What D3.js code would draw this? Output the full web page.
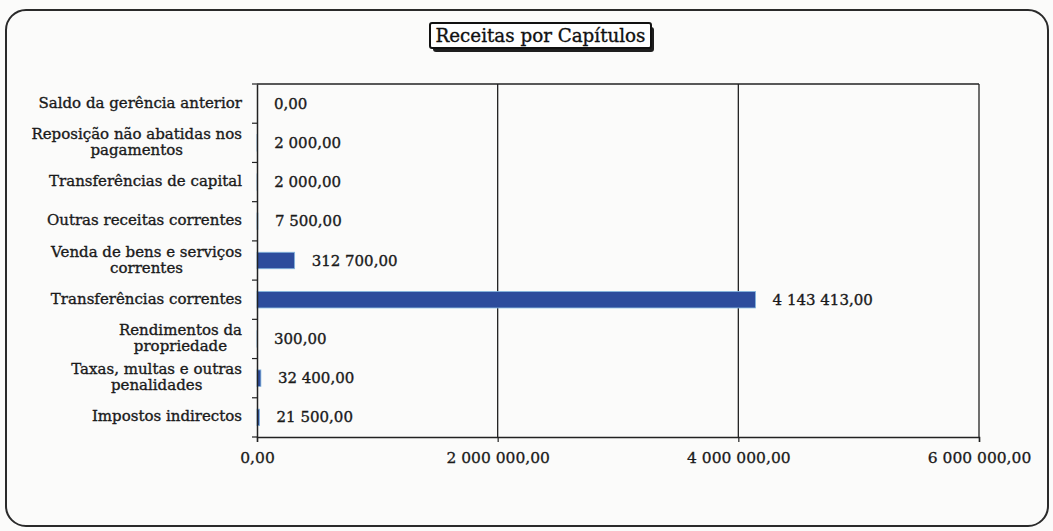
<!DOCTYPE html>
<html>
<head>
<meta charset="utf-8">
<script src="https://cdn.jsdelivr.net/npm/d3@7"></script>
<style>
  body { margin: 0; background: #fbfbfa; }
  svg { display: block; }
</style>
</head>
<body>
<div id="chart"></div>
<script>
// categories listed top to bottom as they appear in the chart
var categories = [
  ['Saldo da gerência anterior'],
  ['Reposição não abatidas nos', 'pagamentos'],
  ['Transferências de capital'],
  ['Outras receitas correntes'],
  ['Venda de bens e serviços', 'correntes'],
  ['Transferências correntes'],
  ['Rendimentos da', 'propriedade'],
  ['Taxas, multas e outras', 'penalidades'],
  ['Impostos indirectos']
];
var values = [0, 2000, 2000, 7500, 312700, 4143413, 300, 32400, 21500];
var xTicks = [0, 2000000, 4000000, 6000000];
var title = 'Receitas por Capítulos';

var W = 1053, H = 531;
var plot = { left: 257, right: 979, top: 84, bottom: 437 };
var serif = "'DejaVu Serif', serif";

var pt = d3.formatLocale({ decimal: ',', thousands: '\u00a0', grouping: [3] });
var fmt = pt.format(',.2f');

var svg = d3.select('#chart').append('svg').attr('width', W).attr('height', H);

// outer frame
svg.append('rect')
  .attr('x', 6).attr('y', 10).attr('width', 1042).attr('height', 516)
  .attr('rx', 20).attr('ry', 20)
  .attr('fill', '#fbfbfa').attr('stroke', '#2a2a2a').attr('stroke-width', 2);

// title box with heavy shadow
var tb = { x: 430, y: 23, w: 221, h: 25 };
svg.append('rect')
  .attr('x', tb.x + 3).attr('y', tb.y + 4).attr('width', tb.w).attr('height', tb.h)
  .attr('rx', 3).attr('fill', '#1e1e1e');
svg.append('rect')
  .attr('x', tb.x).attr('y', tb.y).attr('width', tb.w).attr('height', tb.h)
  .attr('rx', 2)
  .attr('fill', '#fff').attr('stroke', '#111').attr('stroke-width', 2);
svg.append('text')
  .attr('x', tb.x + tb.w / 2).attr('y', tb.y + 19)
  .attr('text-anchor', 'middle')
  .attr('font-family', serif).attr('font-size', 18)
  .attr('textLength', 210).attr('lengthAdjust', 'spacingAndGlyphs')
  .attr('fill', '#111').attr('stroke', '#111').attr('stroke-width', 0.35)
  .text(title);

var x = d3.scaleLinear().domain([0, 6000000]).range([plot.left, plot.right]);
var y = d3.scaleBand().domain(d3.range(categories.length))
  .range([plot.top, plot.bottom]).paddingInner(0.58).paddingOuter(0.29);
var yb = d3.scaleBand().domain(d3.range(categories.length))
  .range([plot.top, plot.bottom]);

// gridlines
svg.append('g').selectAll('line').data(xTicks.slice(1))
  .join('line')
  .attr('x1', function(d) { return x(d); }).attr('x2', function(d) { return x(d); })
  .attr('y1', plot.top).attr('y2', plot.bottom)
  .attr('stroke', '#222').attr('stroke-width', 1.3);

// plot frame top
svg.append('line')
  .attr('x1', plot.left).attr('x2', plot.right)
  .attr('y1', plot.top).attr('y2', plot.top)
  .attr('stroke', '#222').attr('stroke-width', 1.3);

// bars
svg.append('g').selectAll('rect').data(values)
  .join('rect')
  .attr('x', plot.left)
  .attr('y', function(d, i) { return y(i); })
  .attr('width', function(d) { return x(d) - plot.left; })
  .attr('height', y.bandwidth())
  .attr('fill', '#2d4c9c')
  .attr('stroke', '#86b8e0').attr('stroke-width', 0.8);

// value labels
svg.append('g').selectAll('text').data(values)
  .join('text')
  .attr('x', function(d) { return x(d) + 17; })
  .attr('y', function(d, i) { return yb(i) + yb.bandwidth() / 2 + 5; })
  .attr('font-family', serif).attr('font-size', 15)
  .attr('fill', '#1a1a1a').attr('stroke', '#1a1a1a').attr('stroke-width', 0.35)
  .text(function(d) { return fmt(d); });

// x axis
var xAxis = d3.axisBottom(x).tickValues(xTicks).tickSize(5).tickFormat(fmt);
var gx = svg.append('g').attr('transform', 'translate(0,' + plot.bottom + ')').call(xAxis);
gx.select('.domain').attr('stroke', '#222').attr('stroke-width', 1.5);
gx.selectAll('.tick line').attr('stroke', '#222').attr('stroke-width', 1.2);
gx.selectAll('.tick text')
  .attr('y', 15)
  .attr('font-family', serif).attr('font-size', 15.5)
  .attr('fill', '#1a1a1a').attr('stroke', '#1a1a1a').attr('stroke-width', 0.3);

// y axis
var yAxis = d3.axisLeft(yb).tickSize(0).tickFormat('');
var gy = svg.append('g').attr('transform', 'translate(' + plot.left + ',0)').call(yAxis);
gy.select('.domain').attr('stroke', '#222').attr('stroke-width', 1.5);
gy.selectAll('.bt').data(d3.range(categories.length + 1))
  .join('line')
  .attr('x1', -5).attr('x2', 0)
  .attr('y1', function(d) { return plot.top + d * yb.step(); })
  .attr('y2', function(d) { return plot.top + d * yb.step(); })
  .attr('stroke', '#222').attr('stroke-width', 1.2);

// category labels: block right aligned, lines centred inside the block
var labelRight = 242;
categories.forEach(function(lines, i) {
  var cy = yb(i) + yb.bandwidth() / 2;
  var g = svg.append('g');
  var texts = lines.map(function(line, j) {
    return g.append('text')
      .attr('y', cy + 4 + (j - (lines.length - 1) / 2) * 16)
      .attr('font-family', serif).attr('font-size', 15)
      .attr('fill', '#1a1a1a').attr('stroke', '#1a1a1a').attr('stroke-width', 0.35)
      .text(line);
  });
  var maxW = d3.max(texts, function(t) { return t.node().getComputedTextLength(); });
  texts.forEach(function(t) {
    t.attr('text-anchor', 'middle').attr('x', labelRight - maxW / 2);
  });
});
</script>
</body>
</html>
